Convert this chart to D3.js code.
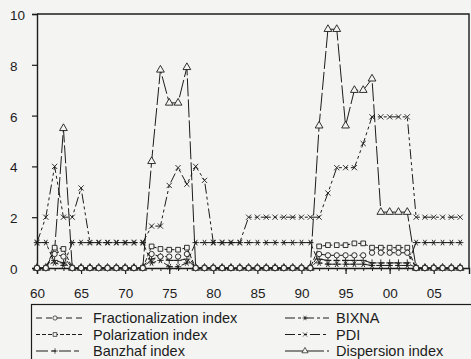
<!DOCTYPE html>
<html>
<head>
<meta charset="utf-8">
<script src="https://cdn.jsdelivr.net/npm/d3@7"></script>
<style>
  html, body { margin: 0; padding: 0; background: #f4f4f3; }
  svg { display: block; font-family: "Liberation Sans", Arial, sans-serif; }
</style>
</head>
<body>
<div id="chart"></div>
<script>
// años 1960-2008
const years = [
  1960, 1961, 1962, 1963, 1964, 1965, 1966, 1967, 1968, 1969,
  1970, 1971, 1972, 1973, 1974, 1975, 1976, 1977, 1978, 1979,
  1980, 1981, 1982, 1983, 1984, 1985, 1986, 1987, 1988, 1989,
  1990, 1991, 1992, 1993, 1994, 1995, 1996, 1997, 1998, 1999,
  2000, 2001, 2002, 2003, 2004, 2005, 2006, 2007, 2008
];

const fractionalization = [
  0, 0, 0.55, 0.45, 0, 0, 0, 0, 0, 0,
  0, 0, 0, 0.55, 0.45, 0.45, 0.45, 0.55, 0, 0,
  0, 0, 0, 0, 0, 0, 0, 0, 0, 0,
  0, 0, 0.55, 0.5, 0.5, 0.5, 0.5, 0.5, 0.6, 0.6,
  0.6, 0.6, 0.6, 0, 0, 0, 0, 0, 0
];

const polarization = [
  0, 0, 0.8, 0.75, 0, 0, 0, 0, 0, 0,
  0, 0, 0, 0.85, 0.75, 0.72, 0.72, 0.8, 0, 0,
  0, 0, 0, 0, 0, 0, 0, 0, 0, 0,
  0, 0, 0.85, 0.9, 0.9, 0.9, 0.97, 0.97, 0.8, 0.8,
  0.8, 0.8, 0.8, 0, 0, 0, 0, 0, 0
];

const banzhaf = [
  0, 0, 0.3, 0.2, 0, 0, 0, 0, 0, 0,
  0, 0, 0, 0.35, 0.45, 0.3, 0.3, 0.35, 0, 0,
  0, 0, 0, 0, 0, 0, 0, 0, 0, 0,
  0, 0, 0.35, 0.3, 0.3, 0.3, 0.3, 0.3, 0.2, 0.2,
  0.2, 0.2, 0.2, 0, 0, 0, 0, 0, 0
];

const bixna = [
  1, 1, 0.2, 0.1, 1, 1, 1, 1, 1, 1,
  1, 1, 1, 0.2, 0.3, 0.05, 0.05, 0.2, 1, 1,
  1, 1, 1, 1, 1, 1, 1, 1, 1, 1,
  1, 1, 0.2, 0.15, 0.15, 0.15, 0.15, 0.15, 0.1, 0.1,
  0.1, 0.1, 0.1, 1, 1, 1, 1, 1, 1
];

const pdi = [
  1, 2, 4, 2, 2, 3.15, 1, 1, 1, 1,
  1, 1, 1, 1.65, 1.65, 3.25, 3.95, 3.3, 4, 3.45,
  1, 1, 1, 1, 2, 2, 2, 2, 2, 2,
  2, 2, 2, 2.95, 3.95, 3.95, 3.95, 4.9, 5.95, 5.95,
  5.95, 5.95, 5.95, 2, 2, 2, 2, 2, 2
];

const dispersion = [
  0, 0, 0.7, 5.5, 0, 0, 0, 0, 0, 0,
  0, 0, 0, 4.2, 7.8, 6.5, 6.5, 7.9, 0, 0,
  0, 0, 0, 0, 0, 0, 0, 0, 0, 0,
  0, 0, 5.6, 9.4, 9.4, 5.6, 7.0, 7.0, 7.45, 2.2,
  2.2, 2.2, 2.2, 0, 0, 0, 0, 0, 0
];

const yTicks = [0, 2, 4, 6, 8, 10];
const xLabelYears = [1960, 1965, 1970, 1975, 1980, 1985, 1990, 1995, 2000, 2005];

const ink = '#1c1c1c';
const bg = '#f4f4f3';

// marcadores
const markers = {
  circle: d3.symbol(d3.symbolCircle, 22)(),
  square: d3.symbol(d3.symbolSquare, 22)(),
  triangle: d3.symbol(d3.symbolTriangle, 26)(),
  plus: 'M-3.5,0H3.5M0,-3.5V3.5',
  star: 'M-3.2,0H3.2M-1.6,-2.8L1.6,2.8M-1.6,2.8L1.6,-2.8',
  cross: 'M-2.6,-2.6L2.6,2.6M-2.6,2.6L2.6,-2.6'
};

const series = [
  { name: 'Dispersion index', values: dispersion, marker: 'triangle', dash: '18,3', fill: true },
  { name: 'PDI', values: pdi, marker: 'cross', dash: '10,3,3,3,3,3', fill: false },
  { name: 'BIXNA', values: bixna, marker: 'star', dash: '10,3,3,3', fill: false },
  { name: 'Banzhaf index', values: banzhaf, marker: 'plus', dash: '12,3,5,3', fill: false },
  { name: 'Polarization index', values: polarization, marker: 'square', dash: '4,2', fill: true },
  { name: 'Fractionalization index', values: fractionalization, marker: 'circle', dash: '6,4', fill: true }
];

const width = 471, height = 359;
const svg = d3.select('#chart').append('svg')
  .attr('width', width)
  .attr('height', height);

const x = d3.scaleLinear().domain([1960, 2009]).range([37, 469]);
const y = d3.scaleLinear().domain([0, 10]).range([268, 14]);

// marco
svg.append('path')
  .attr('d', `M${x(1960)},${y(10)}H${x(2009)}V${y(0)}`)
  .attr('fill', 'none')
  .attr('stroke', ink)
  .attr('stroke-width', 1.4);

// eje y
const yAxis = svg.append('g').attr('transform', `translate(${x(1960)},0)`)
  .call(d3.axisLeft(y).tickValues(yTicks).tickSize(5).tickFormat(d => d));
yAxis.select('.domain').attr('stroke', ink).attr('stroke-width', 1.4);
yAxis.selectAll('.tick line').attr('stroke', ink).attr('stroke-width', 1.2);
yAxis.selectAll('.tick text')
  .attr('x', -27)
  .attr('dy', '0.4em')
  .attr('text-anchor', 'start')
  .style('font-size', '13.5px')
  .style('fill', ink);

// eje x: menor cada año, mayor cada 5
const xAxisMinor = svg.append('g').attr('transform', `translate(0,${y(0)})`)
  .call(d3.axisBottom(x).tickValues(years).tickSize(3).tickFormat(''));
xAxisMinor.select('.domain').remove();
xAxisMinor.selectAll('.tick line').attr('stroke', ink);

const xAxis = svg.append('g').attr('transform', `translate(0,${y(0)})`)
  .call(d3.axisBottom(x).tickValues(xLabelYears).tickSize(6)
    .tickFormat(d => String(d % 100).padStart(2, '0')));
xAxis.select('.domain').attr('stroke', ink).attr('stroke-width', 1.4);
xAxis.selectAll('.tick line').attr('stroke', ink).attr('stroke-width', 1.2);
xAxis.selectAll('.tick text')
  .attr('y', 20)
  .style('font-size', '13.5px')
  .style('fill', ink);

// series
const line = d3.line()
  .x((d, i) => x(years[i]))
  .y(d => y(d));

series.forEach(s => {
  svg.append('path')
    .datum(s.values)
    .attr('d', line)
    .attr('fill', 'none')
    .attr('stroke', ink)
    .attr('stroke-width', 1)
    .attr('stroke-dasharray', s.dash);

  svg.append('g').selectAll('path')
    .data(s.values)
    .enter()
    .append('path')
    .attr('transform', (d, i) => `translate(${x(years[i])},${y(d)})`)
    .attr('d', markers[s.marker])
    .attr('fill', s.fill ? bg : 'none')
    .attr('stroke', ink)
    .attr('stroke-width', 0.9);
});

// leyenda
const legendRows = [
  { s: series[5], col: 0, row: 0 },
  { s: series[4], col: 0, row: 1 },
  { s: series[3], col: 0, row: 2 },
  { s: series[2], col: 1, row: 0 },
  { s: series[1], col: 1, row: 1 },
  { s: series[0], col: 1, row: 2 }
];

svg.append('rect')
  .attr('x', 31.5)
  .attr('y', 304.5)
  .attr('width', 470)
  .attr('height', 80)
  .attr('fill', 'none')
  .attr('stroke', ink)
  .attr('stroke-width', 1.2);

const cols = [
  { x0: 36, x1: 82, mx: 55, tx: 93 },
  { x0: 285, x1: 329, mx: 305, tx: 336 }
];

const legendItems = svg.append('g').selectAll('g')
  .data(legendRows)
  .enter()
  .append('g')
  .attr('transform', d => `translate(0,${318 + d.row * 16.5})`);

legendItems.append('line')
  .attr('x1', d => cols[d.col].x0)
  .attr('x2', d => cols[d.col].x1)
  .attr('stroke', ink)
  .attr('stroke-width', 1)
  .attr('stroke-dasharray', d => d.s.dash);

legendItems.append('path')
  .attr('transform', d => `translate(${cols[d.col].mx},0) scale(0.8)`)
  .attr('d', d => markers[d.s.marker])
  .attr('fill', d => d.s.fill ? bg : 'none')
  .attr('stroke', ink)
  .attr('stroke-width', 0.9);

legendItems.append('text')
  .attr('x', d => cols[d.col].tx)
  .attr('y', 5)
  .text(d => d.s.name)
  .style('font-size', '14.5px')
  .style('fill', ink);
</script>
</body>
</html>
